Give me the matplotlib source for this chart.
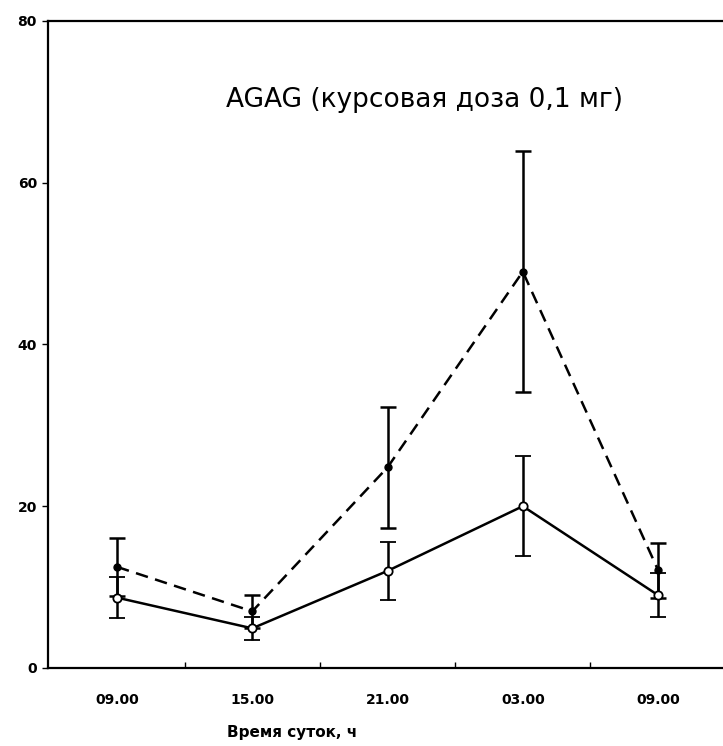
import numpy as np
import matplotlib
matplotlib.use('Agg')
import matplotlib.pyplot as plt

# time points and values
times = ['09.00', '15.00', '21.00', '03.00', '09.00']
solid_mean = [8.7, 4.9, 12.0, 20.0, 9.0]
solid_err = [2.5, 1.4, 3.6, 6.2, 2.7]
dashed_mean = [12.5, 7.0, 24.8, 49.0, 12.1]
dashed_err = [3.6, 2.0, 7.5, 14.9, 3.4]

x = np.arange(len(times))

fig = plt.figure(figsize=(7.23, 7.46), dpi=100)
ax = fig.add_axes([0.0664, 0.1046, 0.9336, 0.8673])

ax.errorbar(x, dashed_mean, yerr=dashed_err, color='black', lw=1.8,
            linestyle=(0, (5, 3)), marker='o', ms=5, mfc='black', mec='black',
            capsize=6, capthick=1.8, elinewidth=1.8, zorder=3)
ax.errorbar(x, solid_mean, yerr=solid_err, color='black', lw=1.8,
            linestyle='-', marker='o', ms=6, mfc='white', mec='black', mew=1.3,
            capsize=6, capthick=1.8, elinewidth=1.8, zorder=4)

ax.set_xlim(-0.51, 4.48)
ax.set_ylim(0, 80)

ax.set_xticks(x)
ax.set_xticklabels(times, fontsize=10, fontweight='bold')
ax.set_xticks(x[:-1] + 0.5, minor=True)
ax.tick_params(axis='x', which='major', length=0, pad=18)
ax.tick_params(axis='x', which='minor', direction='in', length=4, width=1)

ax.set_yticks([0, 20, 40, 60, 80])
ax.set_yticklabels(['0', '20', '40', '60', '80'], fontsize=10, fontweight='bold')
ax.tick_params(axis='y', direction='out', length=4, width=1, pad=4)

ax.spines['right'].set_visible(False)
for s in ['left', 'top', 'bottom']:
    ax.spines[s].set_linewidth(1.6)

ax.set_xlabel('Время суток, ч', fontsize=11, fontweight='bold')
ax.xaxis.set_label_coords(0.361, -0.099)
ax.xaxis.label.set_va('center')

ax.text(0.558, 0.878, 'AGAG (курсовая доза 0,1 мг)', transform=ax.transAxes,
        ha='center', va='center', fontsize=19)

fig.savefig('out.png', dpi=100)
